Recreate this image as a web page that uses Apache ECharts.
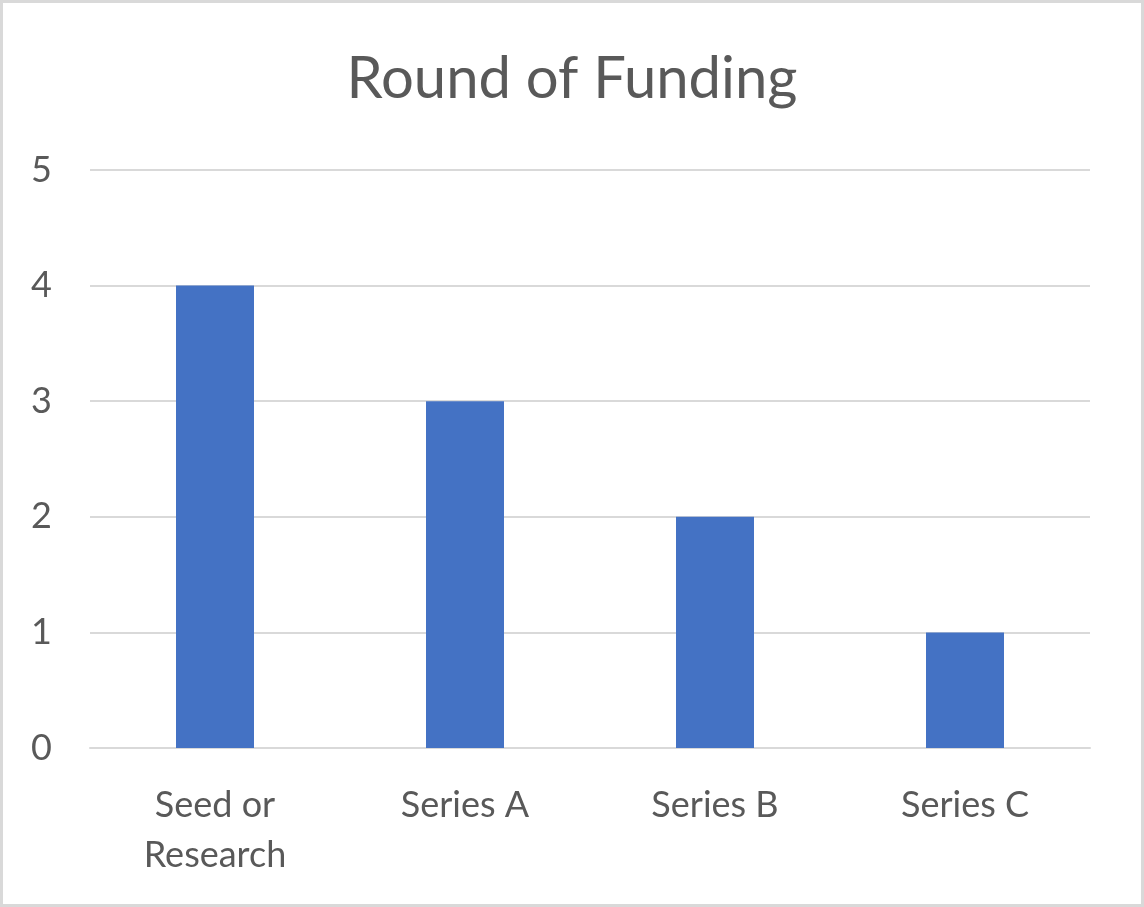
<!DOCTYPE html>
<html>
<head>
<meta charset="utf-8">
<script src="https://cdn.jsdelivr.net/npm/echarts@6/dist/echarts.min.js"></script>
<style>
  html, body { margin: 0; padding: 0; background: #fff; }
  #chart {
    width: 1144px;
    height: 907px;
    box-sizing: border-box;
    border: 3px solid #d9d9d9;
  }
</style>
</head>
<body>
<div id="chart"></div>
<script>
const categories = ['Seed or Research', 'Series A', 'Series B', 'Series C'];
const counts = [4, 3, 2, 1];
const yTicks = [0, 1, 2, 3, 4, 5];

const chart = echarts.init(document.getElementById('chart'));

const fontFamily = 'Lato, "Open Sans", sans-serif';

const option = {
  animation: false,
  title: {
    text: 'Round of Funding',
    left: 'center',
    top: 42,
    textStyle: {
      fontFamily: fontFamily,
      fontSize: 58,
      fontWeight: 'normal',
      color: '#595959'
    }
  },
  grid: {
    left: 87,
    right: 51,
    top: 167,
    bottom: 156,
    containLabel: false
  },
  xAxis: {
    type: 'category',
    data: categories,
    axisLine: { show: true, lineStyle: { color: '#d9d9d9', width: 2 } },
    axisTick: { show: false },
    axisLabel: {
      fontFamily: fontFamily,
      fontSize: 36,
      color: '#595959',
      margin: 32,
      lineHeight: 50,
      formatter: v => v.replace('Seed or ', 'Seed or\n')
    }
  },
  yAxis: {
    type: 'value',
    min: yTicks[0],
    max: yTicks[yTicks.length - 1],
    interval: 1,
    axisLine: { show: false },
    axisTick: { show: false },
    splitLine: { lineStyle: { color: '#d9d9d9', width: 2 } },
    axisLabel: {
      fontFamily: fontFamily,
      fontSize: 36,
      color: '#595959',
      margin: 38
    }
  },
  series: [
    {
      name: 'Round of Funding',
      type: 'bar',
      data: counts,
      barWidth: 78,
      itemStyle: { color: '#4472c4' }
    }
  ]
};

chart.setOption(option);
</script>
</body>
</html>
